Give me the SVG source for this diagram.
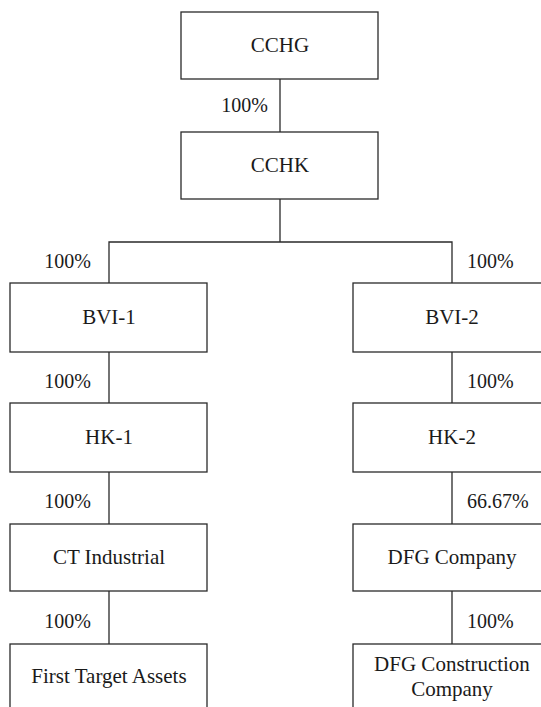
<svg xmlns="http://www.w3.org/2000/svg" width="541" height="707" viewBox="0 0 541 707">
<style>
.box{fill:#fff;stroke:#2a2a2a;stroke-width:1.3}
.ln{fill:none;stroke:#2a2a2a;stroke-width:1.3}
text{font-family:'Liberation Serif','DejaVu Serif',serif;font-size:20px;fill:#1a1a1a}
.t{text-anchor:middle;font-size:21px}
.pl{text-anchor:end}
</style>
<rect width="541" height="707" fill="#fff"/>
<g id="connectors">
<path class="ln" d="M280 79V132"/>
<path class="ln" d="M280 199V242H109V283M280 242H452V283"/>
<path class="ln" d="M109 352V403M109 472V524M109 591V644"/>
<path class="ln" d="M452 352V403M452 472V524M452 591V644"/>
<text class="pl" x="268" y="112">100%</text>
<text class="pl" x="91" y="268">100%</text>
<text x="467" y="268">100%</text>
<text class="pl" x="91" y="388">100%</text>
<text x="467" y="388">100%</text>
<text class="pl" x="91" y="508">100%</text>
<text x="467" y="508">66.67%</text>
<text class="pl" x="91" y="628">100%</text>
<text x="467" y="628">100%</text>
</g>
<g id="cchg"><rect class="box" x="181" y="12" width="197" height="67"/><text class="t" x="280" y="52">CCHG</text></g>
<g id="cchk"><rect class="box" x="181" y="132" width="197" height="67"/><text class="t" x="280" y="172">CCHK</text></g>
<g id="bvi1"><rect class="box" x="10" y="283" width="197" height="69"/><text class="t" x="109" y="324">BVI-1</text></g>
<g id="bvi2"><rect class="box" x="353" y="283" width="198" height="69"/><text class="t" x="452" y="324">BVI-2</text></g>
<g id="hk1"><rect class="box" x="10" y="403" width="197" height="69"/><text class="t" x="109" y="444">HK-1</text></g>
<g id="hk2"><rect class="box" x="353" y="403" width="198" height="69"/><text class="t" x="452" y="444">HK-2</text></g>
<g id="ct"><rect class="box" x="10" y="524" width="197" height="67"/><text class="t" x="109" y="564">CT Industrial</text></g>
<g id="dfg"><rect class="box" x="353" y="524" width="198" height="67"/><text class="t" x="452" y="564">DFG Company</text></g>
<g id="fta"><rect class="box" x="10" y="644" width="197" height="80"/><text class="t" x="109" y="683">First Target Assets</text></g>
<g id="dfgc"><rect class="box" x="353" y="644" width="198" height="80"/><text class="t" x="452" y="671">DFG Construction</text><text class="t" x="452" y="696">Company</text></g>
</svg>
